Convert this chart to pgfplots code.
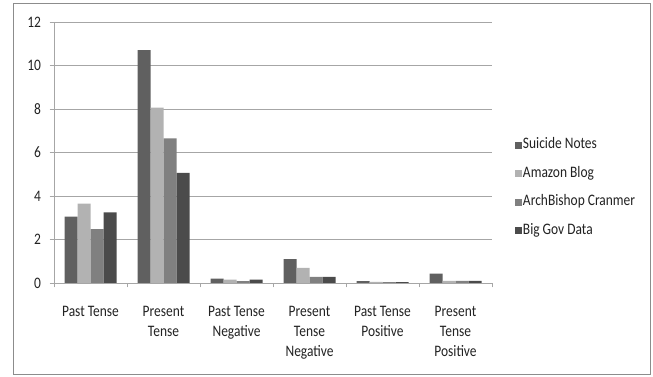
\documentclass[border=0pt]{standalone}
\usepackage{pgfplots}
\pgfplotsset{compat=1.18}
\usepackage{fontspec}
\setmainfont[FakeStretch=0.84]{Carlito}
\definecolor{cA}{HTML}{606060}
\definecolor{cB}{HTML}{B2B2B2}
\definecolor{cC}{HTML}{808080}
\definecolor{cD}{HTML}{4B4B4B}
\definecolor{gridc}{HTML}{A6A6A6}
\definecolor{txt}{HTML}{222222}
\begin{document}
\fontsize{16}{19.5}\selectfont
\begin{tikzpicture}[x=1pt,y=1pt]
\path[use as bounding box] (0,0) rectangle (653,377);
\draw[color=gray!90, line width=0.8pt] (13,3) rectangle (650,374);
\begin{axis}[
  at={(54pt,94pt)}, anchor=south west,
  scale only axis, width=438pt, height=261pt,
  ybar=0pt, bar width=13pt,
  xmin=-0.5, xmax=5.5, ymin=0, ymax=12,
  ytick={0,2,...,12},
  xtick={-0.5,0.5,...,5.5},
  x tick label as interval,
  xticklabels={Past Tense, Present\\Tense, Past Tense\\Negative, Present\\Tense\\Negative, Past Tense\\Positive, Present\\Tense\\Positive},
  x tick label style={align=center, font=\fontsize{16}{20}\selectfont, yshift=-13pt, text=txt},
  y tick label style={font=\fontsize{16}{19.5}\selectfont, xshift=-3pt, text=txt},
  /pgf/number format/assume math mode=true,
  major tick length=4.5pt,
  tick align=outside,
  tick style={draw=gridc, line width=0.8pt},
  axis x line*=bottom, axis y line*=left,
  axis line style={draw=gridc, line width=0.8pt, -},
  ymajorgrids, grid style={draw=gridc, line width=0.8pt},
  legend style={at={(1.052,0.364)}, anchor=west, draw=none, fill=none,
    font=\fontsize{16}{19.5}\selectfont, text=txt, row sep=12pt, inner sep=0pt,
    nodes={inner sep=1pt, text height=11pt, text depth=3.5pt}},
  legend cell align=left,
  legend image code/.code={\fill[#1] (0pt,-3.5pt) rectangle (7pt,3.5pt);},
  every axis plot/.append style={draw=none},
]
\addplot[fill=cA] coordinates {(0,3.05) (1,10.71) (2,0.20) (3,1.10) (4,0.09) (5,0.43)};
\addplot[fill=cB] coordinates {(0,3.65) (1,8.06) (2,0.15) (3,0.70) (4,0.05) (5,0.10)};
\addplot[fill=cC] coordinates {(0,2.48) (1,6.65) (2,0.09) (3,0.28) (4,0.04) (5,0.10)};
\addplot[fill=cD] coordinates {(0,3.25) (1,5.06) (2,0.15) (3,0.28) (4,0.04) (5,0.10)};
\legend{Suicide Notes, Amazon Blog, ArchBishop Cranmer, Big Gov Data}
\end{axis}
\end{tikzpicture}
\end{document}
